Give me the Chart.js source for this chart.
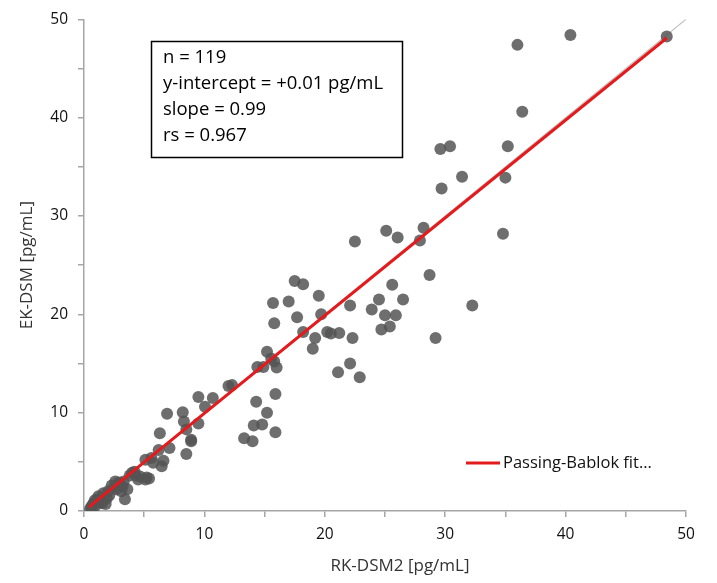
<!DOCTYPE html>
<html>
<head>
<meta charset="utf-8">
<script src="https://cdn.jsdelivr.net/npm/chart.js@4/dist/chart.umd.min.js"></script>
<style>
html,body{margin:0;padding:0;background:#fff;}
#wrap{position:relative;width:717px;height:583px;}
</style>
</head>
<body>
<div id="wrap"><canvas id="c" width="717" height="583"></canvas></div>
<script>
// RK-DSM2 (x) vs EK-DSM (y), pg/mL
const rkDsm2 = [48.4,40.4,36.0,36.4,35.2,30.4,29.6,31.4,35.0,29.7,28.2,27.9,34.8,
  22.5,25.1,26.05,28.7,25.6,24.5,26.5,22.1,23.9,25.0,25.9,24.7,25.4,32.25,29.2,20.2,21.2,22.3,22.1,21.1,22.9,
  17.5,18.2,19.5,15.7,17.0,19.7,17.7,15.8,18.2,20.5,19.2,19.0,15.2,15.55,14.4,14.9,16.0,15.8,12.0,12.3,14.3,15.9,15.2,14.1,14.8,15.9,13.3,14.0,
  9.5,10.7,10.05,6.9,8.2,8.3,9.5,6.3,8.5,8.9,8.9,8.5,7.1,6.2,5.1,5.6,5.75,6.6,6.45,4.65,4.5,5.2,5.1,5.4,3.3,
  2.6,2.9,2.5,2.7,3.2,3.6,3.4,1.2,1.1,0.8,1.5,1.8,0.66,0.94,0.5,
  2.0,2.3,3.0,3.8,4.2,1.6,1.9,0.7,1.0,0.6,2.1,3.1,4.0,4.3,1.3,0.9];
const ekDsm = [48.25,48.4,47.4,40.6,37.1,37.1,36.8,34.0,33.9,32.8,28.8,27.5,28.2,
  27.4,28.5,27.8,24.0,23.0,21.5,21.5,20.9,20.5,19.9,19.9,18.45,18.75,20.9,17.6,18.2,18.1,17.6,15.0,14.1,13.6,
  23.4,23.05,21.9,21.15,21.3,20.0,19.7,19.1,18.2,18.05,17.6,16.5,16.2,15.5,14.65,14.65,14.6,15.2,12.7,12.8,11.1,11.9,10.0,8.7,8.8,8.0,7.4,7.1,
  11.6,11.5,10.6,9.9,10.05,9.1,8.9,7.9,8.3,7.25,7.1,5.8,6.4,6.2,5.2,5.4,4.9,5.1,4.55,3.5,3.2,3.4,3.2,3.3,3.0,
  3.0,2.9,2.4,2.2,2.5,2.2,1.2,1.5,1.2,0.8,0.8,0.7,0.3,0.5,0.2,
  2.0,2.6,2.8,3.6,4.0,1.8,1.3,0.6,0.9,0.4,1.6,2.0,3.9,3.6,0.9,1.1];
// Passing-Bablok fit line endpoints and identity line
const fitX = [0.4, 48.4];
const fitY = [0.4, 48.1];
const idX = [0, 50];
const idY = [0, 50];
const xTicks = [0,10,20,30,40,50];
const yTicks = [0,10,20,30,40,50];
const statsLines = ["n = 119","y-intercept = +0.01 pg/mL","slope = 0.99","rs = 0.967"];
const legendLabel = "Passing-Bablok fit...";
const xTitle = "RK-DSM2 [pg/mL]";
const yTitle = "EK-DSM [pg/mL]";

const FONT = "'Open Sans', Lato, sans-serif";
const pts = rkDsm2.map((x,i)=>({x:x,y:ekDsm[i]}));
const fit = fitX.map((x,i)=>({x:x,y:fitY[i]}));
const idl = idX.map((x,i)=>({x:x,y:idY[i]}));

const overlay = {
  id:'overlay',
  afterDraw(chart){
    const ctx = chart.ctx;
    const a = chart.chartArea;
    ctx.save();
    // stats box
    ctx.strokeStyle = '#000';
    ctx.lineWidth = 1.5;
    ctx.fillStyle = '#fff';
    ctx.fillRect(151.5,41.5,251,116);
    ctx.strokeRect(151.5,41.5,251,116);
    ctx.fillStyle = '#000';
    ctx.font = "18.5px " + FONT;
    ctx.textBaseline = 'middle';
    ctx.textAlign = 'left';
    statsLines.forEach((t,i)=>ctx.fillText(t,163,58+i*26));
    // legend
    ctx.strokeStyle = '#e41a1c';
    ctx.lineWidth = 3;
    ctx.beginPath(); ctx.moveTo(466,463); ctx.lineTo(500,463); ctx.stroke();
    ctx.fillStyle = '#111';
    ctx.font = "16.5px " + FONT;
    ctx.fillText(legendLabel,503,463);
    // axis titles
    ctx.font = "17px " + FONT;
    ctx.fillStyle = '#333';
    ctx.textAlign = 'center';
    ctx.fillText(xTitle,400,566);
    ctx.translate(27,(a.top+a.bottom)/2);
    ctx.rotate(-Math.PI/2);
    ctx.fillText(yTitle,0,0);
    ctx.restore();
  }
};

const axisCommon = {
  type:'linear', min:0, max:50,
  border:{display:true,color:'#a6a6a6',width:1.5},
  grid:{display:true,drawOnChartArea:false,drawTicks:true,tickLength:6,color:'#a6a6a6',lineWidth:1.5},
  title:{display:false}
};

new Chart(document.getElementById('c'),{
  type:'scatter',
  data:{datasets:[
    {label:'identity',data:idl,showLine:true,borderColor:'#c0c0c0',borderWidth:1.2,pointRadius:0,order:3},
    {label:'data',data:pts,backgroundColor:'rgba(85,85,85,0.85)',borderWidth:0,pointRadius:6,pointHoverRadius:6,order:2},
    {label:legendLabel,data:fit,showLine:true,borderColor:'#e41a1c',borderWidth:3,pointRadius:0,order:1}
  ]},
  options:{
    responsive:false,animation:false,
    layout:{padding:{top:16,right:31,left:0,bottom:0}},
    plugins:{legend:{display:false},tooltip:{enabled:false}},
    scales:{
      x:Object.assign({},axisCommon,{
        position:'bottom',
        afterFit(s){s.height=72;},
        afterBuildTicks(s){s.ticks=[];for(let v=0;v<=50;v+=5)s.ticks.push({value:v});},
        ticks:{autoSkip:false,maxRotation:0,padding:8,color:'#111',font:{family:FONT,size:15.5},
          callback:(v)=>xTicks.includes(v)?String(v):''}
      }),
      y:Object.assign({},axisCommon,{
        position:'left',
        afterFit(s){s.width=84;},
        afterBuildTicks(s){s.ticks=[];for(let v=0;v<=50;v+=5)s.ticks.push({value:v});},
        ticks:{autoSkip:false,padding:10,color:'#111',font:{family:FONT,size:15.5},
          callback:(v)=>yTicks.includes(v)?String(v):''}
      })
    }
  },
  plugins:[overlay]
});
</script>
</body>
</html>
